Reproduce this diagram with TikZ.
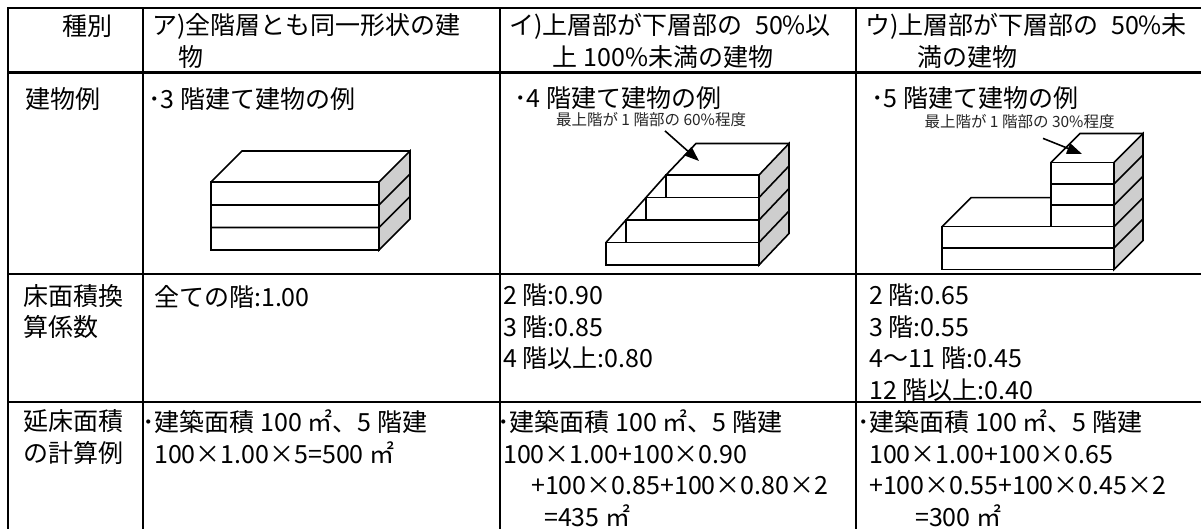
\documentclass[tikz,border=0pt]{standalone}
\usepackage{fontspec}
\newfontfamily\jp{Noto Sans CJK JP}
\usetikzlibrary{arrows.meta}
\definecolor{sidegray}{RGB}{206,206,206}
\tikzset{
  cell/.style={font=\jp\fontsize{25}{31.5}\selectfont,inner sep=0pt,anchor=north west,align=left,execute at begin node=\strut},
  note/.style={font=\jp\fontsize{15.5}{17}\selectfont,inner sep=0pt,text=black!85},
  bld/.style={line width=1.6pt,line join=miter},
  pointer/.style={line width=1.6pt,-{Triangle[length=15pt,width=11pt]}}
}

\begin{document}
\begin{tikzpicture}[x=1pt,y=-1pt,line width=2.4pt]
  \useasboundingbox (0,0) rectangle (1201,529);
  % table
  \draw (1201,8) -- (8,8) -- (8,529);
  \draw (143,8) -- (143,529);
  \draw (500,8) -- (500,529);
  \draw (856,8) -- (856,529);
  \draw (8,72.5) -- (1201,72.5);
  \draw (8,274) -- (1201,274);
  \draw (8,402) -- (1201,402);
  % header
  \node[cell] (kind) at (61,12.5) {種別};
  \node[cell] (typea) at (151,12.5) {ア)全階層とも同一形状の建\\\hspace*{1.05em}物};
  \node[cell] (typeb) at (508,12.5) {イ)上層部が下層部の\hspace{0.5em}50\%以\\\hspace*{1.75em}上 100\%未満の建物};
  \node[cell] (typec) at (864,12.5) {ウ)上層部が下層部の\hspace{0.5em}50\%未\\\hspace*{2.1em}満の建物};
  % examples
  \node[cell] (ex) at (24,85) {建物例};
  \node[cell] (exa) at (147,85) {･3 階建て建物の例};
  \node[cell] (exb) at (513,84) {･4 階建て建物の例};
  \node[cell] (exc) at (870,84) {･5 階建て建物の例};
  \node[note] (noteb) at (651,120) {最上階が 1 階部の 60\%程度};
  \node[note] (notec) at (1019.5,122) {最上階が 1 階部の 30\%程度};
  % factors
  \node[cell] (fac) at (22,283) {床面積換\\算係数};
  \node[cell] (faca) at (153,283) {全ての階:1.00};
  \node[cell] (facb) at (502,283) {2 階:0.90\\3 階:0.85\\4 階以上:0.80};
  \node[cell] (facc) at (868,283) {2 階:0.65\\3 階:0.55\\4〜11 階:0.45\\12 階以上:0.40};
  % calculation
  \node[cell] (calc) at (22,408.5) {延床面積\\の計算例};
  \node[cell] (calca) at (141,408.5) {･建築面積 100 ㎡、5 階建\\\hspace*{12pt}100×1.00×5=500 ㎡};
  \node[cell] (calcb) at (496,408.5) {･建築面積 100 ㎡、5 階建\\\hspace*{6pt}100×1.00+100×0.90\\\hspace*{34pt}+100×0.85+100×0.80×2\\\hspace*{47pt}=435 ㎡};
  \node[cell] (calcc) at (856,408.5) {･建築面積 100 ㎡、5 階建\\\hspace*{12pt}100×1.00+100×0.65\\\hspace*{12pt}+100×0.55+100×0.45×2\\\hspace*{58pt}=300 ㎡};
  % building a
  \filldraw[bld,fill=sidegray] (379,182) -- (410,151) -- (410,219) -- (379,250) -- cycle;
  \draw[bld] (211,182) -- (242,151) -- (410,151);
  \draw[bld] (211,182) rectangle (379,250);
  \draw[bld] (211,205) -- (379,205) -- (410,174);
  \draw[bld] (211,227.5) -- (379,227.5) -- (410,196.5);
  % building b
  \filldraw[bld,fill=sidegray] (759,175) -- (789,143.5) -- (789,233.5) -- (759,265) -- cycle;
  \draw[bld] (606,242.5) -- (626,220) -- (646,197.5) -- (666,175) -- (696,143.5) -- (789,143.5);
  \draw[bld] (606,242.5) rectangle (759,265);
  \draw[bld] (626,220) rectangle (759,242.5);
  \draw[bld] (646,197.5) rectangle (759,220);
  \draw[bld] (666,175) rectangle (759,197.5);
  \draw[bld] (759,197.5) -- (789,166) (759,220) -- (789,188.5) (759,242.5) -- (789,211);
  \coordinate (topb) at (699,161);
  \draw[pointer] ([shift={(14,2.5)}]noteb.south) -- (topb);
  % building c
  \filldraw[bld,fill=sidegray] (1114,162.5) -- (1143,133.5) -- (1143,240.5) -- (1114,269.5) -- cycle;
  \draw[bld] (942,226.7) -- (971,197.7) -- (1051,197.7);
  \draw[bld] (1051,162.5) -- (1080,133.5) -- (1143,133.5);
  \draw[bld] (942,226.7) rectangle (1114,269.5);
  \draw[bld] (942,248.1) -- (1114,248.1);
  \draw[bld] (1051,162.5) rectangle (1114,226.7);
  \draw[bld] (1051,183.9) -- (1114,183.9) (1051,205.3) -- (1114,205.3);
  \draw[bld] (1114,183.9) -- (1143,154.9) (1114,205.3) -- (1143,176.3) (1114,226.7) -- (1143,197.7) (1114,248.1) -- (1143,219.1);
  \coordinate (topc) at (1082,154);
  \draw[pointer] ([shift={(23.5,8)}]notec.south) -- (topc);
\end{tikzpicture}
\end{document}
